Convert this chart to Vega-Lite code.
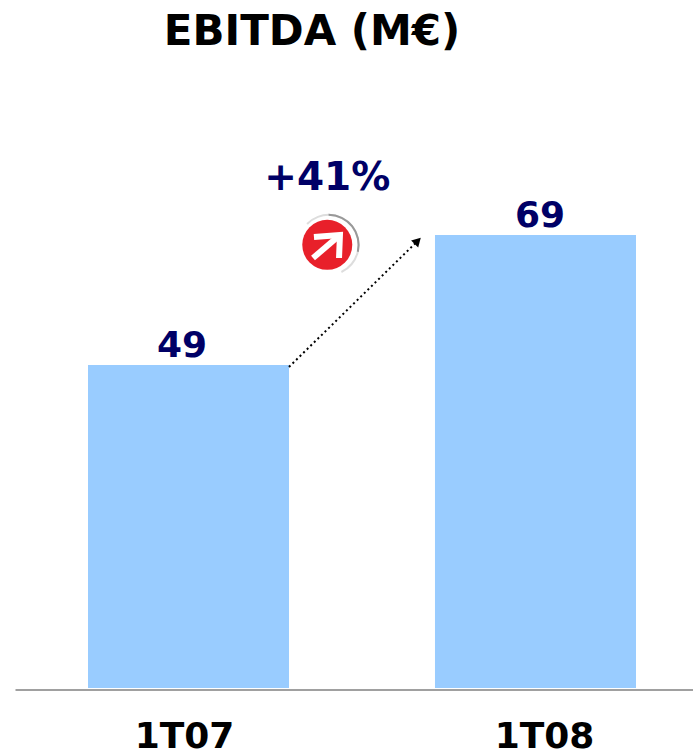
{"$schema":"https://vega.github.io/schema/vega-lite/v6.json","width":678,"height":628,"autosize":"none","padding":{"left":15,"top":60,"right":0,"bottom":63},"background":"white","view":{"stroke":null},
"title":{"text":"EBITDA (M€)","font":"DejaVu Sans","fontWeight":"bold","fontSize":42,"color":"black","anchor":"middle","dx":-42,"offset":6},
"datasets":{"bars":[{"period":"1T07","ebitda":49.2,"label":"49"},{"period":"1T08","ebitda":69,"label":"69"}],
"growth":[{"pos":0,"value":48.9},{"pos":0.975,"value":68.1}],
"head":[{"pos":0.975,"value":68.1}],
"pct":[{"pos":0.29,"value":75.8,"label":"+41%"}],
"icon":[{"pos":0.29,"value":67.5}],
"ring":[{"pos":0.3,"value":67.5}],
"iconArrow":[{"part":"a","o":1,"pos":0.182,"value":65.5},{"part":"a","o":2,"pos":0.386,"value":69},{"part":"b","o":1,"pos":0.189,"value":68.7},{"part":"b","o":2,"pos":0.386,"value":69},{"part":"b","o":3,"pos":0.379,"value":65.5}]},
"layer":[
{"data":{"name":"bars"},"mark":{"type":"bar","color":"#99CCFF"},
"encoding":{"x":{"field":"period","type":"nominal","scale":{"range":[0,694],"paddingInner":0.4207,"paddingOuter":0.2104},"axis":{"title":null,"labelAngle":0,"labelFont":"DejaVu Sans","labelFontWeight":"bold","labelFontSize":36,"labelColor":"black","labelPadding":30,"labelOffset":{"condition":{"test":"datum.label == '1T07'","value":-4},"value":9},"labelBound":false,"labelFlush":false,"ticks":false,"domainColor":"#A0A0A0","domainWidth":2,"offset":1.5,"grid":false}},
"y":{"field":"ebitda","type":"quantitative","scale":{"domain":[0,95.66],"nice":false,"zero":false},"axis":null}}},
{"data":{"name":"bars"},"mark":{"type":"text","color":"#000066","font":"DejaVu Sans","fontWeight":"bold","fontSize":36,"baseline":"alphabetic","dy":-8},
"encoding":{"x":{"field":"period","type":"nominal","scale":{"range":[-12,704],"paddingInner":0.4207,"paddingOuter":0.2104},"axis":null},
"y":{"field":"ebitda","type":"quantitative","axis":null},"text":{"field":"label"}}},
{"data":{"name":"growth"},"mark":{"type":"line","color":"black","strokeWidth":2,"strokeDash":[2,3]},
"encoding":{"x":{"field":"pos","type":"quantitative","scale":{"domain":[0,1],"range":[274,406],"nice":false,"zero":false},"axis":null},"y":{"field":"value","type":"quantitative","axis":null}}},
{"data":{"name":"head"},"mark":{"type":"point","shape":"triangle-up","filled":true,"color":"black","opacity":1,"size":100,"angle":45},
"encoding":{"x":{"field":"pos","type":"quantitative","scale":{"domain":[0,1],"range":[274,406],"nice":false,"zero":false},"axis":null},"y":{"field":"value","type":"quantitative","axis":null}}},
{"data":{"name":"pct"},"mark":{"type":"text","color":"#000066","font":"DejaVu Sans","fontWeight":"bold","fontSize":39,"baseline":"alphabetic"},
"encoding":{"x":{"field":"pos","type":"quantitative","scale":{"domain":[0,1],"range":[274,406],"nice":false,"zero":false},"axis":null},"y":{"field":"value","type":"quantitative","axis":null},"text":{"field":"label"}}},
{"data":{"name":"ring"},"mark":{"type":"arc","radius":31,"radius2":29,"theta":-0.8,"theta2":2.7,"color":"#DDDDDD"},
"encoding":{"x":{"field":"pos","type":"quantitative","scale":{"domain":[0,1],"range":[274,406],"nice":false,"zero":false},"axis":null},"y":{"field":"value","type":"quantitative","axis":null}}},
{"data":{"name":"ring"},"mark":{"type":"arc","radius":31,"radius2":29,"theta":0,"theta2":1.8,"color":"#999999"},
"encoding":{"x":{"field":"pos","type":"quantitative","scale":{"domain":[0,1],"range":[274,406],"nice":false,"zero":false},"axis":null},"y":{"field":"value","type":"quantitative","axis":null}}},
{"data":{"name":"icon"},"mark":{"type":"point","shape":"circle","filled":true,"color":"#E8202A","opacity":1,"size":2500},
"encoding":{"x":{"field":"pos","type":"quantitative","scale":{"domain":[0,1],"range":[274,406],"nice":false,"zero":false},"axis":null},"y":{"field":"value","type":"quantitative","axis":null}}},
{"data":{"name":"iconArrow"},"mark":{"type":"line","color":"white","strokeWidth":6,"strokeJoin":"miter"},
"encoding":{"detail":{"field":"part"},"order":{"field":"o"},"x":{"field":"pos","type":"quantitative","scale":{"domain":[0,1],"range":[274,406],"nice":false,"zero":false},"axis":null},"y":{"field":"value","type":"quantitative","axis":null}}}
],
"resolve":{"scale":{"x":"independent"}}}
